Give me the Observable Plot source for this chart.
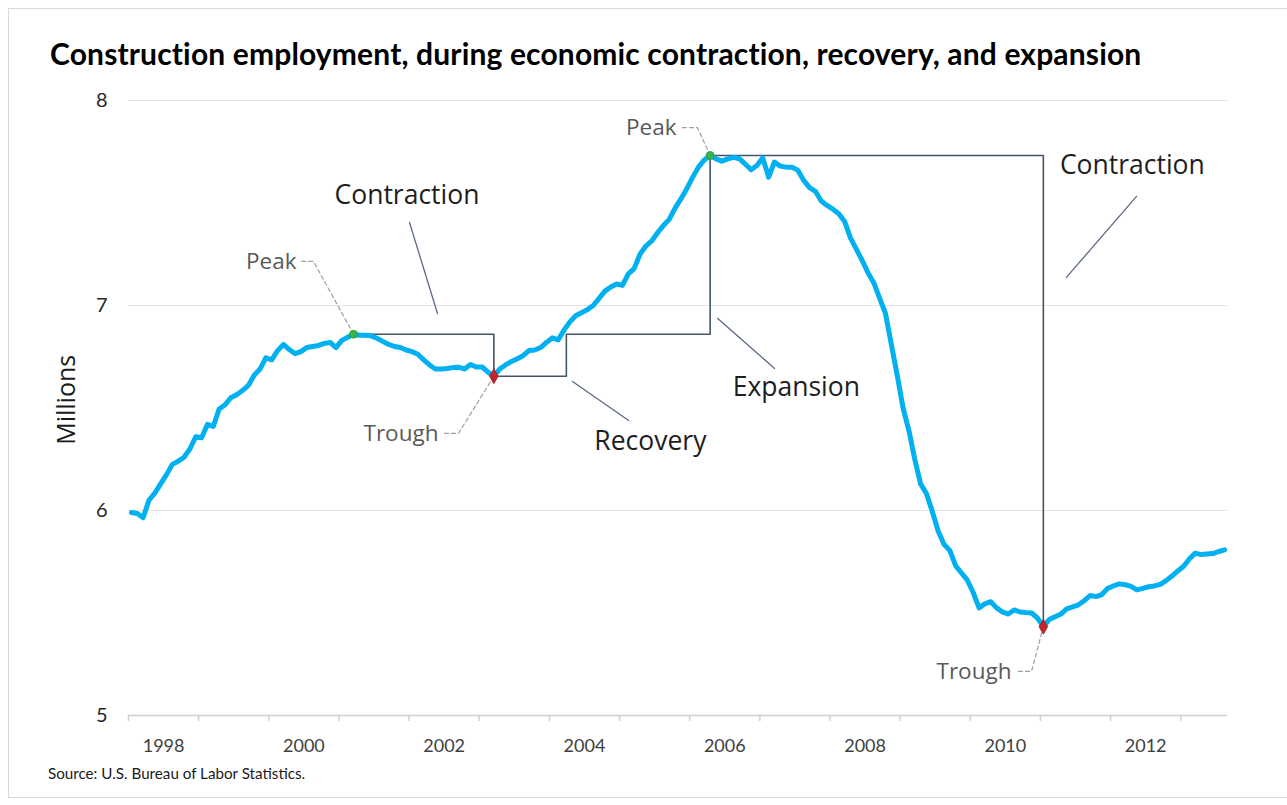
<!DOCTYPE html>
<html>
<head>
<meta charset="utf-8">
<script src="https://cdn.jsdelivr.net/npm/d3@7"></script>
<script src="https://cdn.jsdelivr.net/npm/@observablehq/plot@0.6"></script>
<style>
  html, body { margin: 0; padding: 0; background: #fff; width: 1287px; height: 805px; overflow: hidden; }
  #frame { position: absolute; left: 8px; top: 8px; width: 1290px; height: 790px; border: 1px solid #d9d9d9; box-sizing: border-box; }
  #title { position: absolute; left: 50px; top: 38px; font: 700 30px/30px Lato, sans-serif; letter-spacing: 0.15px; color: #000; white-space: nowrap; }
  #chart { position: absolute; left: 0; top: 85px; }
  #source { position: absolute; left: 48px; top: 766px; font: 15.2px/15px Lato, sans-serif; color: #1a1a1a; white-space: nowrap; }
</style>
</head>
<body>
<div id="frame"></div>
<div id="title">Construction employment, during economic contraction, recovery, and expansion</div>
<div id="chart"></div>
<div id="source">Source: U.S. Bureau of Labor Statistics.</div>
<script>
// Monthly construction employment, millions, January 1998 – August 2013
const startYear = 1998;
const employment = [
  5.99, 5.985, 5.965, 6.05, 6.085, 6.13, 6.175, 6.225, 6.24, 6.26, 6.30, 6.36,      // 1998
  6.355, 6.42, 6.41, 6.495, 6.515, 6.55, 6.565, 6.585, 6.61, 6.66, 6.69, 6.745,    // 1999
  6.735, 6.78, 6.81, 6.785, 6.765, 6.775, 6.795, 6.80, 6.805, 6.815, 6.82, 6.795,  // 2000
  6.83, 6.845, 6.86, 6.855, 6.855, 6.852, 6.84, 6.825, 6.81, 6.80, 6.795, 6.783,   // 2001
  6.775, 6.762, 6.735, 6.71, 6.69, 6.69, 6.693, 6.697, 6.699, 6.69, 6.712, 6.70,   // 2002
  6.70, 6.675, 6.655, 6.69, 6.71, 6.727, 6.74, 6.755, 6.78, 6.783, 6.795, 6.82,    // 2003
  6.842, 6.832, 6.88, 6.92, 6.95, 6.965, 6.98, 7.0, 7.035, 7.07, 7.09, 7.105,      // 2004
  7.098, 7.154, 7.18, 7.25, 7.29, 7.315, 7.355, 7.39, 7.42, 7.475, 7.52, 7.57,     // 2005
  7.625, 7.675, 7.71, 7.732, 7.715, 7.704, 7.715, 7.723, 7.716, 7.69, 7.662, 7.683,// 2006
  7.72, 7.626, 7.70, 7.68, 7.675, 7.675, 7.66, 7.61, 7.575, 7.557, 7.51, 7.488,    // 2007
  7.47, 7.448, 7.41, 7.33, 7.275, 7.22, 7.16, 7.11, 7.035, 6.96, 6.81, 6.66,       // 2008
  6.50, 6.39, 6.25, 6.13, 6.083, 5.995, 5.90, 5.835, 5.805, 5.73, 5.695, 5.66,     // 2009
  5.60, 5.525, 5.545, 5.555, 5.525, 5.505, 5.495, 5.515, 5.505, 5.502, 5.50, 5.475,// 2010
  5.433, 5.468, 5.482, 5.495, 5.52, 5.53, 5.54, 5.56, 5.585, 5.58, 5.59, 5.62,     // 2011
  5.632, 5.642, 5.638, 5.63, 5.613, 5.62, 5.628, 5.632, 5.64, 5.658, 5.68, 5.705,  // 2012
  5.728, 5.765, 5.792, 5.785, 5.788, 5.79, 5.80, 5.808                              // 2013
];

// Turning points (year, month)
const pointTypes  = ["Peak", "Trough", "Peak", "Trough"];
const pointDates  = [[2001, 3], [2003, 3], [2006, 4], [2011, 1]];
const recoveryDate = [2004, 3.4];   // employment back at the 2001 peak level

// Phase names
const phaseNames = ["Contraction", "Recovery", "Expansion", "Contraction"];

// Axis ticks
const yTicks = [5, 6, 7, 8];
const yearTicks = d3.range(1998, 2014);
const yearLabels = [1998, 2000, 2002, 2004, 2006, 2008, 2010, 2012];

// ---- annotation layout (data units: year, millions) ----
const phaseLayout = [
  {x: 2001.97, y: 7.537, line: [[2002.006, 7.405], [2002.405, 6.961]]},
  {x: 2005.44, y: 6.337, line: [[2004.33, 6.629], [2005.13, 6.439]]},
  {x: 2007.52, y: 6.600, line: [[2006.40, 6.937], [2007.21, 6.693]]},
  {x: 2012.31, y: 7.683, line: [[2011.37, 7.137], [2012.37, 7.532]]}
];
const pointLabelLayout = [
  {x: 2000.395, y: 7.215, start: 2000.47, elbow: 2000.637},
  {x: 2002.419, y: 6.376, start: 2002.505, elbow: 2002.704},
  {x: 2005.812, y: 7.868, start: 2005.897, elbow: 2006.111},
  {x: 2010.587, y: 5.215, start: 2010.687, elbow: 2010.872}
];

// ---- derived tables ----
const monthIndex = ([y, m]) => (y - startYear) * 12 + (m - 1);
const xOfIndex = i => startYear + (i + 0.5) / 12;
const series = employment.map((v, i) => ({x: xOfIndex(i), y: v}));
const points = pointTypes.map((t, k) => {
  const i = monthIndex(pointDates[k]);
  return {type: t, x: xOfIndex(i), y: employment[i]};
});
const recX = xOfIndex(monthIndex(recoveryDate));
const [p1, t1, p2, t2] = points;
const bracket = [
  [p1.x, p1.y], [t1.x, p1.y], [t1.x, t1.y], [recX, t1.y], [recX, p1.y],
  [p2.x, p1.y], [p2.x, p2.y], [t2.x, p2.y], [t2.x, t2.y]
].map(([x, y]) => ({x, y}));

const phaseLines = phaseLayout.flatMap((d, k) => d.line.map(([x, y]) => ({k, x, y})));
const phaseText = phaseLayout.map((d, k) => ({...d, text: phaseNames[k]}));
const leaders = pointLabelLayout.flatMap((d, k) => [
  {k, x: d.start, y: d.y}, {k, x: d.elbow, y: d.y}, {k, x: points[k].x, y: points[k].y}
]);
const pointText = pointLabelLayout.map((d, k) => ({...d, text: pointTypes[k]}));

const xEnd = startYear + employment.length / 12;

const chart = Plot.plot({
  width: 1287,
  height: 675,
  marginLeft: 128,
  marginRight: 60,
  marginTop: 15,
  marginBottom: 45,
  x: {type: "linear", domain: [startYear, xEnd], axis: null},
  y: {type: "linear", domain: [5, 8], axis: null},
  style: {fontFamily: "Lato, sans-serif", background: "transparent", overflow: "visible"},
  marks: [
    Plot.ruleY(yTicks.filter(d => d > 5), {stroke: "#e3e3e3", strokeWidth: 1}),
    Plot.ruleY([5], {stroke: "#d0d0d0", strokeWidth: 1.5}),
    Plot.ruleX(yearTicks, {y1: 5, y2: 5, insetBottom: -6, stroke: "#d0d0d0", strokeWidth: 1.5}),
    Plot.text(yearLabels, {x: d => d + 0.5, y: 5, dy: 31, text: d => String(d), fontSize: 18, fill: "#404040"}),
    Plot.text(yTicks, {x: startYear, y: d => d, dx: -21, textAnchor: "end", text: d => String(d), fontSize: 20, fill: "#262626"}),
    Plot.text(["Millions"], {x: startYear, y: 6.54, dx: -62, rotate: -90, text: d => d, fontSize: 25, fill: "#1a1a1a", fontFamily: "Open Sans, sans-serif"}),
    // bracket showing the cycle
    Plot.line(bracket, {x: "x", y: "y", stroke: "#44546A", strokeWidth: 1.6, curve: "linear"}),
    // phase callouts
    Plot.line(phaseLines, {x: "x", y: "y", z: "k", stroke: "#5b6a86", strokeWidth: 1.3}),
    Plot.text(phaseText, {x: "x", y: "y", text: "text", fontSize: 26.5, fill: "#1e1e1e", fontFamily: "Open Sans, sans-serif"}),
    // employment line
    Plot.line(series, {x: "x", y: "y", stroke: "#00B0F0", strokeWidth: 5, strokeLinejoin: "round", strokeLinecap: "round"}),
    // point leaders and labels
    Plot.line(leaders, {x: "x", y: "y", z: "k", stroke: "#a0a0a0", strokeWidth: 1.2, strokeDasharray: "4,3"}),
    Plot.text(pointText, {x: "x", y: "y", text: "text", textAnchor: "end", fontSize: 22.5, fill: "#595959", fontFamily: "Open Sans, sans-serif"}),
    Plot.dot(points.filter(d => d.type === "Peak"), {x: "x", y: "y", r: 4, fill: "#35b34a", stroke: "#2a9a3c", strokeWidth: 0.8}),
    Plot.dot(points.filter(d => d.type === "Trough"), {x: "x", y: "y", r: 4.5, symbol: "diamond", fill: "#c0262d", stroke: "#a01a20", strokeWidth: 0.8})
  ]
});
document.getElementById("chart").appendChild(chart);
</script>
</body>
</html>
